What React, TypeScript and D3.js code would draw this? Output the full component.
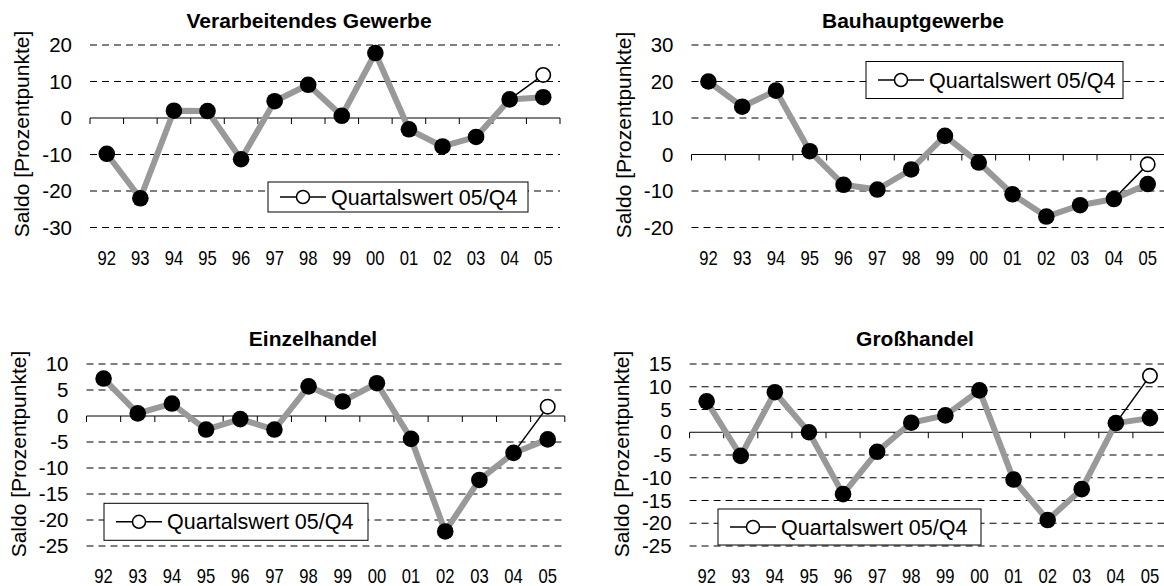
import * as d3 from "d3"

const years = ["92", "93", "94", "95", "96", "97", "98", "99", "00", "01", "02", "03", "04", "05"]

const verarbeitendValues = [-9.8, -22, 2, 1.9, -11.3, 4.6, 9.1, 0.6, 17.8, -3.1, -7.8, -5.2, 5.1, 5.7]
const verarbeitendQuarter = 11.8
const verarbeitendTicks = [20, 10, 0, -10, -20, -30]

const bauValues = [20, 13.1, 17.5, 0.9, -8.3, -9.6, -4.1, 5.1, -2.2, -10.9, -17, -13.9, -12.2, -8.1]
const bauQuarter = -2.7
const bauTicks = [30, 20, 10, 0, -10, -20]

const einzelValues = [7.2, 0.5, 2.4, -2.6, -0.6, -2.6, 5.7, 2.8, 6.3, -4.4, -22.2, -12.3, -7.1, -4.5]
const einzelQuarter = 1.8
const einzelTicks = [10, 5, 0, -5, -10, -15, -20, -25]

const grossValues = [6.8, -5.2, 8.8, 0, -13.6, -4.3, 2.1, 3.7, 9.2, -10.4, -19.3, -12.5, 2, 3.1]
const grossQuarter = 12.4
const grossTicks = [15, 10, 5, 0, -5, -10, -15, -20, -25]

const legendLabel = "Quartalswert 05/Q4"
const yTitle = "Saldo [Prozentpunkte]"

const FONT = "'Liberation Sans', Arial, sans-serif"

interface PanelProps {
  title: string
  values: number[]
  quarter: number
  ticks: number[]
  left: number
  right: number
  top: number
  bottom: number
  titleX: number
  titleY: number
  yTitleY: number
  labelY: number
  legend: { x: number; y: number; w: number; h: number }
}

function Panel(p: PanelProps) {
  const x = d3.scaleBand<string>().domain(years).range([p.left, p.right]).padding(0)
  const y = d3.scaleLinear()
    .domain([d3.min(p.ticks)!, d3.max(p.ticks)!])
    .range([p.bottom, p.top])
  const cx = (i: number) => x(years[i])! + x.bandwidth() / 2

  const line = d3.line<number>()
    .x((_d, i) => cx(i))
    .y(d => y(d))

  const last = p.values.length - 1
  const boundaries = d3.range(years.length + 1).map(i => p.left + i * x.bandwidth())
  const lg = p.legend
  const lgMid = lg.y + lg.h / 2

  return (
    <g>
      <text x={p.titleX} y={p.titleY} dy="0.35em" textAnchor="middle" fontFamily={FONT}
        fontWeight="bold" fontSize={21}>{p.title}</text>
      <text transform={`translate(${p.left - 68},${p.yTitleY}) rotate(-90)`} dy="0.35em"
        textAnchor="middle" fontFamily={FONT} fontSize={21}>{yTitle}</text>

      {/* grid */}
      {p.ticks.filter(t => t !== 0).map(t => (
        <line key={t} x1={p.left} x2={p.right} y1={y(t)} y2={y(t)} stroke="#000"
          strokeWidth={1} strokeDasharray="7,5" />
      ))}
      {p.ticks.map(t => (
        <text key={t} x={p.left - 18} y={y(t)} dy="0.35em" textAnchor="end" fontFamily={FONT}
          fontSize={20.5}>{t}</text>
      ))}

      {/* zero axis + ticks */}
      <line x1={p.left} x2={p.right} y1={y(0)} y2={y(0)} stroke="#000" strokeWidth={1} />
      {boundaries.map((b, i) => (
        <line key={i} x1={b} x2={b} y1={y(0)} y2={y(0) + 6} stroke="#000" strokeWidth={1} />
      ))}

      {years.map((yr, i) => (
        <text key={yr} x={cx(i)} y={p.labelY} dy="0.35em" textAnchor="middle" fontFamily={FONT}
          fontSize={21} textLength={18.5} lengthAdjust="spacingAndGlyphs">{yr}</text>
      ))}

      <path d={line(p.values)!} fill="none" stroke="#999" strokeWidth={6} strokeLinejoin="round" />
      <line x1={cx(last - 1)} y1={y(p.values[last - 1])} x2={cx(last)} y2={y(p.quarter)}
        stroke="#000" strokeWidth={1.5} />
      {p.values.map((v, i) => (
        <circle key={i} cx={cx(i)} cy={y(v)} r={8.3} fill="#000" />
      ))}
      <circle cx={cx(last)} cy={y(p.quarter)} r={7.2} fill="#fff" stroke="#000" strokeWidth={1.6} />

      {/* legend */}
      <rect x={lg.x} y={lg.y} width={lg.w} height={lg.h} fill="#fff" stroke="#000" strokeWidth={1} />
      <line x1={lg.x + 12} x2={lg.x + 58} y1={lgMid} y2={lgMid} stroke="#000" strokeWidth={1.5} />
      <circle cx={lg.x + 35} cy={lgMid} r={6.5} fill="#fff" stroke="#000" strokeWidth={1.5} />
      <text x={lg.x + 63} y={lgMid} dy="0.35em" fontFamily={FONT} fontSize={21.5}>{legendLabel}</text>
    </g>
  )
}

export default function App() {
  return (
    <svg width={1164} height={586} style={{ position: "absolute", left: 0, top: 0, background: "#fff" }}>
      <rect width={1164} height={586} fill="#fff" />
      <Panel title="Verarbeitendes Gewerbe" values={verarbeitendValues} quarter={verarbeitendQuarter}
        ticks={verarbeitendTicks} left={90} right={560} top={45} bottom={227.5}
        titleX={309} titleY={21} yTitleY={134} labelY={257.5}
        legend={{ x: 268, y: 182, w: 260, h: 30 }} />
      <Panel title="Bauhauptgewerbe" values={bauValues} quarter={bauQuarter}
        ticks={bauTicks} left={691.5} right={1164.6} top={45} bottom={227.5}
        titleX={913} titleY={21} yTitleY={135} labelY={258}
        legend={{ x: 866, y: 61.5, w: 257, h: 37 }} />
      <Panel title="Einzelhandel" values={einzelValues} quarter={einzelQuarter}
        ticks={einzelTicks} left={86.5} right={564.8} top={364} bottom={546}
        titleX={313} titleY={339} yTitleY={454} labelY={576}
        legend={{ x: 104, y: 503.3, w: 264, h: 37 }} />
      <Panel title="Großhandel" values={grossValues} quarter={grossQuarter}
        ticks={grossTicks} left={689.6} right={1167} top={364} bottom={546}
        titleX={915} titleY={339} yTitleY={454} labelY={576}
        legend={{ x: 718, y: 509, w: 263, h: 36 }} />
    </svg>
  )
}
